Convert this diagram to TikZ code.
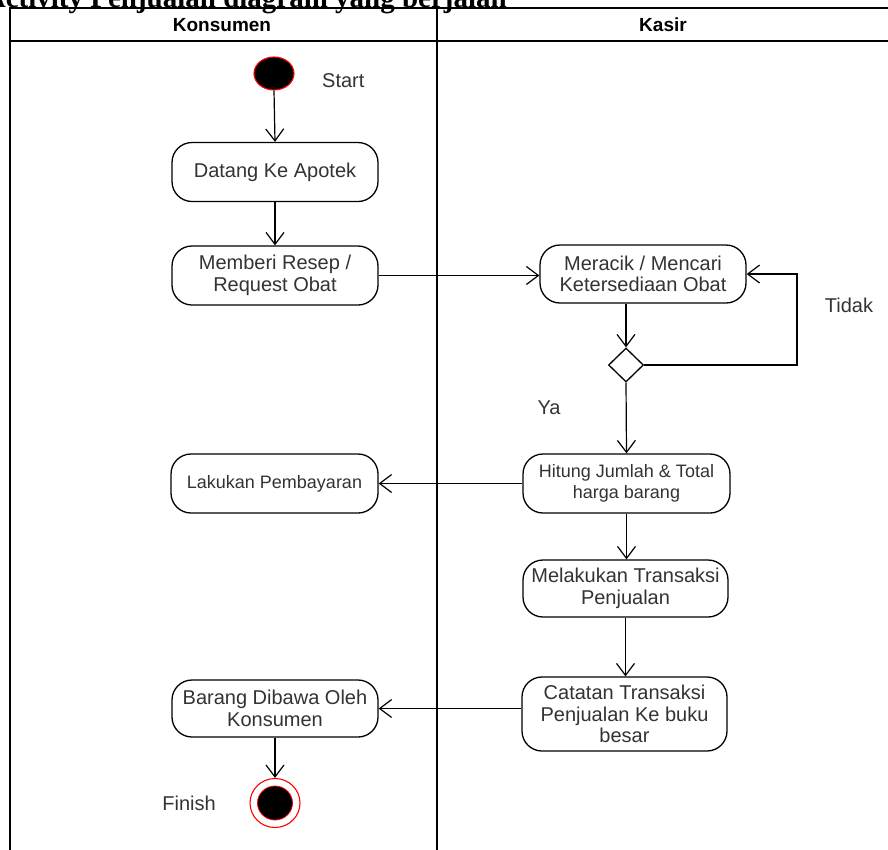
\documentclass[tikz,border=0pt]{standalone}
\usepackage{fontspec}
\setmainfont{Liberation Sans}
\newfontfamily\titlefont{Liberation Serif}
\usetikzlibrary{arrows.meta,shapes.geometric}
\definecolor{txt}{HTML}{333333}
\begin{document}
\begin{tikzpicture}[x=1pt,y=-1pt,
  act/.style={draw, line width=1.3pt, rounded corners=20pt, align=center, inner sep=0pt, text=txt,
    minimum width=206pt, minimum height=59pt, font=\fontsize{20}{21.5}\selectfont},
  actsmall/.style={act, font=\fontsize{18}{21}\selectfont},
  lbl/.style={text=txt, font=\fontsize{20}{22}\selectfont, inner sep=0pt},
  arr/.style={line width=1.2pt, -{Straight Barb[length=12pt,width=18pt]}},
  lane/.style={line width=1.3pt},
  hdr/.style={font=\bfseries\fontsize{19}{22}\selectfont, inner sep=0pt},
  startst/.style={shape=ellipse, fill=black, draw=red, line width=1.1pt, inner sep=0pt,
    minimum width=40pt, minimum height=33pt},
  decision/.style={shape=diamond, draw, line width=1.3pt, fill=white, inner sep=0pt,
    minimum width=35pt, minimum height=34pt}
]
\useasboundingbox (0,0) rectangle (888,849);
\clip (0,0) rectangle (888,849);
\fill[white] (0,0) rectangle (888,849);

% title (cut off at top)
\node[anchor=base east, inner sep=0pt, font=\titlefont\bfseries\fontsize{29}{30}\selectfont] (title) at (507,7.5) {Activity Penjualan diagram yang berjalan};

% swimlanes
\draw[lane] (10,870) -- (10,8) -- (900,8);
\draw[lane] (10,41) -- (900,41);
\draw[lane] (437,8) -- (437,870);
\node[hdr] (hk) at (222,25) {Konsumen};
\node[hdr] (hs) at (663,25) {Kasir};

% nodes
\node[startst] (start) at (274,73.5) {};
\node[lbl, anchor=west] (startl) at (322,81) {Start};
\node[act] (dat) at (275,172) {Datang Ke Apotek};
\node[act] (mem) at (275,275.5) {Memberi Resep /\\Request Obat};
\node[act, minimum height=58pt] (mer) at (643,274) {Meracik / Mencari\\Ketersediaan Obat};
\node[decision] (dia) at (626,365) {};
\node[lbl] (tidak) at (849,305) {Tidak};
\node[lbl] (ya) at (549,408) {Ya};
\node[actsmall, minimum width=207pt] (hit) at (626.5,483.5) {Hitung Jumlah \& Total\\harga barang};
\node[actsmall, minimum width=207pt] (lak) at (274.5,483.5) {Lakukan Pembayaran};
\node[act, minimum width=205pt, minimum height=57pt] (mel) at (625.5,588.5) {Melakukan Transaksi\\Penjualan};
\node[act, minimum width=205pt, minimum height=74pt] (cat) at (624.5,714) {Catatan Transaksi\\Penjualan Ke buku\\besar};
\node[act, minimum height=57pt] (bar) at (275,708.5) {Barang Dibawa Oleh\\Konsumen};
\node[shape=ellipse, draw=red, fill=white, line width=1.1pt, inner sep=0pt, minimum width=50pt, minimum height=49pt] (fin) at (275,803) {};
\node[shape=ellipse, draw=red, fill=black, line width=0.8pt, inner sep=0pt, minimum width=35pt, minimum height=34pt] (finin) at (275,803) {};
\node[lbl, anchor=east] (finl) at (216,803) {Finish};

\coordinate (lp) at (797,300);

% connectors
\draw[arr] (start.south) -- (dat.north);
\draw[arr] (dat.south) -- (mem.north);
\draw[arr] (mem.east) -- (mem.east -| mer.west);
\draw[arr] (dia |- mer.south) -- (dia.north);
\draw[arr] (dia.east) -- (dia.east -| lp) -- (lp |- mer.east) -- (mer.east);
\draw[arr] (dia.south) -- (hit.north);
\draw[arr] (hit.west) -- (lak.east);
\draw[arr] (hit.south) -- (mel.north -| hit.south);
\draw[arr] (mel.south) -- (mel.south |- cat.north);
\draw[arr] (cat.west |- bar.east) -- (bar.east);
\draw[arr] (bar.south) -- (fin.north);
\end{tikzpicture}
\end{document}
